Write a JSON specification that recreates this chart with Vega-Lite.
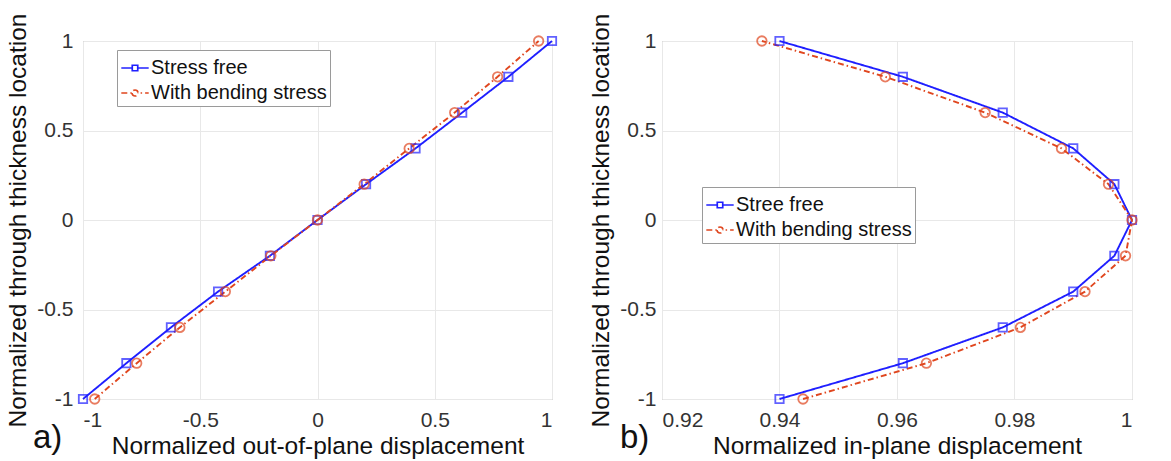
{
  "$schema": "https://vega.github.io/schema/vega-lite/v6.json",
  "padding": {"left": 5, "top": 12, "right": 5, "bottom": 2},
  "background": "white",
  "spacing": 27,
  "config": {
    "font": "Liberation Sans",
    "view": {"stroke": "#a0a0a0", "strokeWidth": 1},
    "axis": {
      "grid": true, "gridColor": "#e8e8e8", "ticks": false, "domain": false,
      "labelFontSize": 21, "labelColor": "#333333", "labelFont": "Liberation Sans",
      "titleFontSize": 24.5, "titleFontWeight": "normal", "titleColor": "#111111", "titleFont": "Liberation Sans"
    },
    "legend": {
      "labelFontSize": 20, "labelColor": "#111111", "labelFont": "Liberation Sans", "labelLimit": 0,
      "strokeColor": "#9a9a9a", "fillColor": "white", "padding": 3,
      "symbolSize": 750, "symbolStrokeWidth": 1.7, "symbolFillColor": "transparent",
      "rowPadding": 0, "labelOffset": 1
    }
  },
  "hconcat": [
    {
      "width": 469, "height": 358,
      "title": {"text": "a)", "orient": "bottom", "anchor": "start", "frame": "group", "dx": -50, "offset": -36, "fontSize": 33, "fontWeight": "normal", "font": "Liberation Sans", "color": "#111111"},
      "data": {"values": [
        {"s": "Stress free", "x": -1.0, "y": -1.0},
        {"s": "Stress free", "x": -0.815, "y": -0.8},
        {"s": "Stress free", "x": -0.625, "y": -0.6},
        {"s": "Stress free", "x": -0.424, "y": -0.4},
        {"s": "Stress free", "x": -0.203, "y": -0.2},
        {"s": "Stress free", "x": 0.0, "y": 0.0},
        {"s": "Stress free", "x": 0.207, "y": 0.2},
        {"s": "Stress free", "x": 0.418, "y": 0.4},
        {"s": "Stress free", "x": 0.617, "y": 0.6},
        {"s": "Stress free", "x": 0.814, "y": 0.8},
        {"s": "Stress free", "x": 1.0, "y": 1.0},
        {"s": "With bending stress", "x": -0.95, "y": -1.0},
        {"s": "With bending stress", "x": -0.771, "y": -0.8},
        {"s": "With bending stress", "x": -0.587, "y": -0.6},
        {"s": "With bending stress", "x": -0.393, "y": -0.4},
        {"s": "With bending stress", "x": -0.199, "y": -0.2},
        {"s": "With bending stress", "x": 0.0, "y": 0.0},
        {"s": "With bending stress", "x": 0.199, "y": 0.2},
        {"s": "With bending stress", "x": 0.391, "y": 0.4},
        {"s": "With bending stress", "x": 0.585, "y": 0.6},
        {"s": "With bending stress", "x": 0.768, "y": 0.8},
        {"s": "With bending stress", "x": 0.943, "y": 1.0}
      ]},
      "encoding": {
        "x": {"field": "x", "type": "quantitative", "scale": {"domain": [-1, 1], "nice": false, "zero": false},
              "axis": {"values": [-1, -0.5, 0, 0.5, 1], "labelExpr": "'' + datum.value", "title": "Normalized out-of-plane displacement", "labelPadding": 10, "titlePadding": 4}},
        "y": {"field": "y", "type": "quantitative", "scale": {"domain": [-1, 1], "nice": false, "zero": false},
              "axis": {"values": [-1, -0.5, 0, 0.5, 1], "labelExpr": "'' + datum.value", "title": "Normalized through thickness location", "labelPadding": 10, "titlePadding": 6}},
        "color": {"field": "s", "type": "nominal",
                  "scale": {"domain": ["Stress free", "With bending stress"], "range": ["#1f1fff", "#e0461e"]},
                  "legend": {"title": null, "orient": "none", "legendX": 34, "legendY": 9,
                             "encode": {"symbols": {"update": {
                               "shape": {"signal": "datum.value == 'Stress free' ? 'M-1,0H-0.2M0.2,0H1M-0.2,-0.2H0.2V0.2H-0.2Z' : 'M-1,0H-0.22A0.22,0.22,0,1,1,0.22,0H1M-0.22,0A0.22,0.22,0,1,0,0.22,0'"},
                               "strokeDash": {"signal": "datum.value == 'Stress free' ? [1,0] : [5,3,1.5,3]"}
                             }}}}}
      },
      "layer": [
        {"mark": {"type": "line", "strokeWidth": 1.9},
         "encoding": {
           "order": {"field": "y", "type": "quantitative"},
           "strokeDash": {"field": "s", "type": "nominal", "scale": {"domain": ["Stress free", "With bending stress"], "range": [[1, 0], [6, 3, 1.5, 3]]}, "legend": null}
         }},
        {"transform": [{"filter": "datum.s == 'Stress free'"}],
         "mark": {"type": "point", "shape": "square", "filled": false, "size": 70, "strokeWidth": 1.8}},
        {"transform": [{"filter": "datum.s != 'Stress free'"}],
         "mark": {"type": "point", "shape": "circle", "filled": false, "size": 90, "strokeWidth": 1.8}}
      ]
    },
    {
      "width": 470, "height": 358,
      "title": {"text": "b)", "orient": "bottom", "anchor": "start", "frame": "group", "dx": -42, "offset": -36, "fontSize": 33, "fontWeight": "normal", "font": "Liberation Sans", "color": "#111111"},
      "data": {"values": [
        {"s": "Stree free", "x": 0.940, "y": -1.0},
        {"s": "Stree free", "x": 0.961, "y": -0.8},
        {"s": "Stree free", "x": 0.978, "y": -0.6},
        {"s": "Stree free", "x": 0.990, "y": -0.4},
        {"s": "Stree free", "x": 0.997, "y": -0.2},
        {"s": "Stree free", "x": 1.0, "y": 0.0},
        {"s": "Stree free", "x": 0.997, "y": 0.2},
        {"s": "Stree free", "x": 0.990, "y": 0.4},
        {"s": "Stree free", "x": 0.978, "y": 0.6},
        {"s": "Stree free", "x": 0.961, "y": 0.8},
        {"s": "Stree free", "x": 0.940, "y": 1.0},
        {"s": "With bending stress", "x": 0.944, "y": -1.0},
        {"s": "With bending stress", "x": 0.965, "y": -0.8},
        {"s": "With bending stress", "x": 0.981, "y": -0.6},
        {"s": "With bending stress", "x": 0.992, "y": -0.4},
        {"s": "With bending stress", "x": 0.9989, "y": -0.2},
        {"s": "With bending stress", "x": 1.0, "y": 0.0},
        {"s": "With bending stress", "x": 0.996, "y": 0.2},
        {"s": "With bending stress", "x": 0.988, "y": 0.4},
        {"s": "With bending stress", "x": 0.975, "y": 0.6},
        {"s": "With bending stress", "x": 0.958, "y": 0.8},
        {"s": "With bending stress", "x": 0.937, "y": 1.0}
      ]},
      "encoding": {
        "x": {"field": "x", "type": "quantitative", "scale": {"domain": [0.92, 1], "nice": false, "zero": false},
              "axis": {"values": [0.92, 0.94, 0.96, 0.98, 1], "labelExpr": "'' + datum.value", "title": "Normalized in-plane displacement", "labelPadding": 10, "titlePadding": 4}},
        "y": {"field": "y", "type": "quantitative", "scale": {"domain": [-1, 1], "nice": false, "zero": false},
              "axis": {"values": [-1, -0.5, 0, 0.5, 1], "labelExpr": "'' + datum.value", "title": "Normalized through thickness location", "labelPadding": 6, "titlePadding": 6}},
        "color": {"field": "s", "type": "nominal",
                  "scale": {"domain": ["Stree free", "With bending stress"], "range": ["#1f1fff", "#e0461e"]},
                  "legend": {"title": null, "orient": "none", "legendX": 40, "legendY": 146,
                             "encode": {"symbols": {"update": {
                               "shape": {"signal": "datum.value == 'Stree free' ? 'M-1,0H-0.2M0.2,0H1M-0.2,-0.2H0.2V0.2H-0.2Z' : 'M-1,0H-0.22A0.22,0.22,0,1,1,0.22,0H1M-0.22,0A0.22,0.22,0,1,0,0.22,0'"},
                               "strokeDash": {"signal": "datum.value == 'Stree free' ? [1,0] : [5,3,1.5,3]"}
                             }}}}}
      },
      "layer": [
        {"mark": {"type": "line", "strokeWidth": 1.9},
         "encoding": {
           "order": {"field": "y", "type": "quantitative"},
           "strokeDash": {"field": "s", "type": "nominal", "scale": {"domain": ["Stree free", "With bending stress"], "range": [[1, 0], [6, 3, 1.5, 3]]}, "legend": null}
         }},
        {"transform": [{"filter": "datum.s == 'Stree free'"}],
         "mark": {"type": "point", "shape": "square", "filled": false, "size": 70, "strokeWidth": 1.8}},
        {"transform": [{"filter": "datum.s != 'Stree free'"}],
         "mark": {"type": "point", "shape": "circle", "filled": false, "size": 90, "strokeWidth": 1.8}}
      ]
    }
  ],
  "resolve": {"scale": {"color": "independent", "strokeDash": "independent", "x": "independent", "y": "independent"}, "legend": {"color": "independent"}}
}
